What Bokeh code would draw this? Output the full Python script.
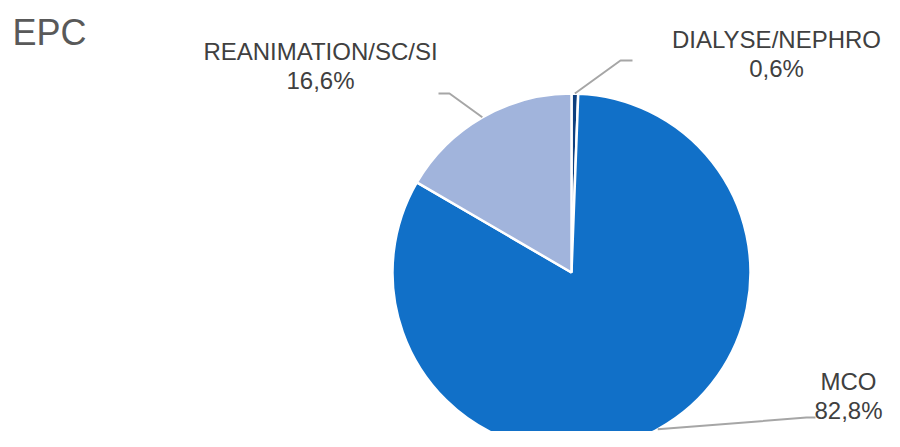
import numpy as np
from bokeh.plotting import figure
from bokeh.models import Range1d, ColumnDataSource
from bokeh.core.properties import value
from bokeh.embed import file_html
from bokeh.resources import INLINE

# ---- data ----
categories = ["DIALYSE/NEPHRO", "MCO", "REANIMATION/SC/SI"]
shares = [0.6, 82.8, 16.6]
pct_labels = ["0,6%", "82,8%", "16,6%"]
colors = ["#0E3F7E", "#1170C8", "#A1B4DC"]

H = 447  # y up = H - screen_y
W_FIG, H_FIG = 884, 431

p = figure(width=W_FIG, height=H_FIG, output_backend="svg", toolbar_location=None,
           x_range=Range1d(0, W_FIG), y_range=Range1d(H - H_FIG, H),
           min_border=0)
p.axis.visible = False
p.grid.visible = False
p.outline_line_color = None
p.background_fill_color = "white"
p.border_fill_color = "white"

cx, cy, r = 571, H - 272, 179

fr = np.array(shares) / sum(shares)
ends = np.pi / 2 - 2 * np.pi * np.cumsum(fr)
starts = np.concatenate([[np.pi / 2], ends[:-1]])
src = ColumnDataSource(dict(start=starts, end=ends, color=colors))
p.wedge(x=cx, y=cy, radius=r, start_angle="start", end_angle="end",
        direction="clock", fill_color="color", line_color="white",
        line_width=2.5, source=src)

mids = (starts + ends) / 2
edge_x = cx + r * np.cos(mids)
edge_y = cy + r * np.sin(mids)

# leader line elbows and label anchors (screen coords)
elbows = [[(620, 60), (632, 60)], [(806, 417), (815, 417)], [(449, 93), (438, 93)]]
label_pos = [(776, 39), (848, 381), (320, 51)]

for i in range(3):
    xs = [edge_x[i]] + [e[0] for e in elbows[i]]
    ys = [edge_y[i]] + [H - e[1] for e in elbows[i]]
    p.line(xs, ys, line_color="#A6A6A6", line_width=2)

lx = [lp[0] for lp in label_pos]
ly1 = [H - lp[1] for lp in label_pos]
ly2 = [H - lp[1] - 29 for lp in label_pos]
p.text(x=lx, y=ly1, text=categories, text_align="center", text_baseline="alphabetic",
       text_font=value("Liberation Sans"), text_font_size="24px", text_color="#404040")
p.text(x=lx, y=ly2, text=pct_labels, text_align="center", text_baseline="alphabetic",
       text_font=value("Liberation Sans"), text_font_size="24px", text_color="#404040")

p.text(x=[12], y=[H - 32], text=["EPC"], text_align="left", text_baseline="alphabetic",
       text_font=value("Liberation Sans"), text_font_size="36px", text_color="#595959")

open("out.html", "w").write(file_html(p, INLINE))
